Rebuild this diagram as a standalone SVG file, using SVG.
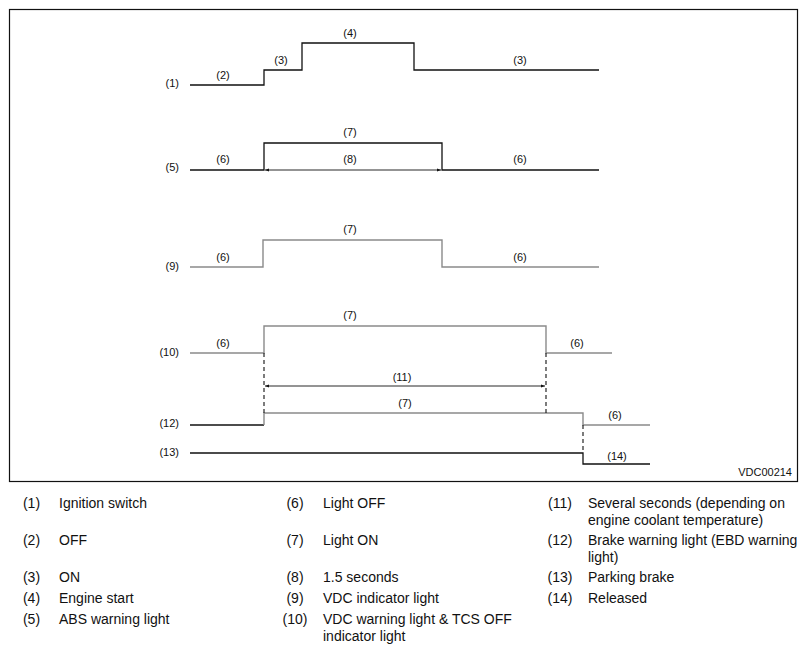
<svg xmlns="http://www.w3.org/2000/svg" width="808" height="653" viewBox="0 0 808 653">
<style>
.sig{fill:none;stroke:#111;stroke-width:1.3}
.gry{fill:none;stroke:#8a8a8a;stroke-width:1.4}
.dash{fill:none;stroke:#111;stroke-width:1.1;stroke-dasharray:4,3}
.dim{fill:none;stroke:#111;stroke-width:0.9}
.lb{font-family:"Liberation Sans",Arial,sans-serif;font-size:11px;fill:#111;text-anchor:middle}
.rl{font-family:"Liberation Sans",Arial,sans-serif;font-size:11px;fill:#111;text-anchor:end}
.lg{font-family:"Liberation Sans",Arial,sans-serif;font-size:14px;fill:#111}
.ln{font-family:"Liberation Sans",Arial,sans-serif;font-size:14px;fill:#111;text-anchor:middle}
</style>
<defs>
<marker id="ah" viewBox="0 0 10 10" refX="10" refY="5" markerWidth="6" markerHeight="4" orient="auto-start-reverse" markerUnits="userSpaceOnUse">
<path d="M0,1 L10,5 L0,9 Z" fill="#111"/>
</marker>
</defs>
<rect x="9.5" y="9.5" width="788" height="472" fill="#fff" stroke="#111" stroke-width="1.2"/>

<g id="connectors">
<path id="s1" class="sig" d="M190,85 H264 V70 H302 V43 H414 V70 H599"/>
<path id="s5" class="sig" d="M190,170 H264 V143 H442 V170 H599"/>
<path id="s9" class="gry" d="M190,267 H263 V240 H442 V267 H599"/>
<path id="s10" class="gry" d="M190,353 H264 V326 H546 V353 H612"/>
<path class="sig" d="M190,425 H264"/>
<path class="gry" d="M264,425 V413 H583 V425 H650"/>
<path id="s13" class="sig" d="M190,453 H583 V464 H650"/>
<path class="dash" d="M264,353 V413"/>
<path class="dash" d="M546,353 V413"/>
<path class="dash" d="M583,425 V453"/>
<path class="dim" d="M265,170 H441" marker-start="url(#ah)" marker-end="url(#ah)"/>
<path class="dim" d="M265,386 H545" marker-start="url(#ah)" marker-end="url(#ah)"/>
</g>

<g id="row-labels">
<text class="rl" x="179" y="87">(1)</text>
<text class="rl" x="179" y="171">(5)</text>
<text class="rl" x="179" y="270">(9)</text>
<text class="rl" x="179" y="356">(10)</text>
<text class="rl" x="179" y="427">(12)</text>
<text class="rl" x="179" y="456">(13)</text>
</g>

<g id="state-labels">
<text class="lb" x="223" y="79">(2)</text>
<text class="lb" x="281" y="64">(3)</text>
<text class="lb" x="350" y="37">(4)</text>
<text class="lb" x="520" y="64">(3)</text>
<text class="lb" x="350" y="136">(7)</text>
<text class="lb" x="223" y="163">(6)</text>
<text class="lb" x="350" y="163">(8)</text>
<text class="lb" x="520" y="163">(6)</text>
<text class="lb" x="350" y="233">(7)</text>
<text class="lb" x="223" y="261">(6)</text>
<text class="lb" x="520" y="261">(6)</text>
<text class="lb" x="350" y="319">(7)</text>
<text class="lb" x="223" y="347">(6)</text>
<text class="lb" x="577" y="347">(6)</text>
<text class="lb" x="402" y="381">(11)</text>
<text class="lb" x="405" y="407">(7)</text>
<text class="lb" x="615" y="419">(6)</text>
<text class="lb" x="617" y="460">(14)</text>
<text class="rl" x="792" y="476">VDC00214</text>
</g>

<g id="legend">
<text class="ln" x="31.5" y="508">(1)</text><text class="lg" x="59" y="508">Ignition switch</text>
<text class="ln" x="31.5" y="545">(2)</text><text class="lg" x="59" y="545">OFF</text>
<text class="ln" x="31.5" y="582">(3)</text><text class="lg" x="59" y="582">ON</text>
<text class="ln" x="31.5" y="603">(4)</text><text class="lg" x="59" y="603">Engine start</text>
<text class="ln" x="31.5" y="624">(5)</text><text class="lg" x="59" y="624">ABS warning light</text>

<text class="ln" x="295" y="508">(6)</text><text class="lg" x="323" y="508">Light OFF</text>
<text class="ln" x="295" y="545">(7)</text><text class="lg" x="323" y="545">Light ON</text>
<text class="ln" x="295" y="582">(8)</text><text class="lg" x="323" y="582">1.5 seconds</text>
<text class="ln" x="295" y="603">(9)</text><text class="lg" x="323" y="603">VDC indicator light</text>
<text class="ln" x="295" y="624">(10)</text><text class="lg" x="323" y="624">VDC warning light &amp; TCS OFF</text>
<text class="lg" x="323" y="641">indicator light</text>

<text class="ln" x="560" y="508">(11)</text><text class="lg" x="588" y="508">Several seconds (depending on</text>
<text class="lg" x="588" y="525">engine coolant temperature)</text>
<text class="ln" x="560" y="545">(12)</text><text class="lg" x="588" y="545">Brake warning light (EBD warning</text>
<text class="lg" x="588" y="562">light)</text>
<text class="ln" x="560" y="582">(13)</text><text class="lg" x="588" y="582">Parking brake</text>
<text class="ln" x="560" y="603">(14)</text><text class="lg" x="588" y="603">Released</text>
</g>
</svg>
